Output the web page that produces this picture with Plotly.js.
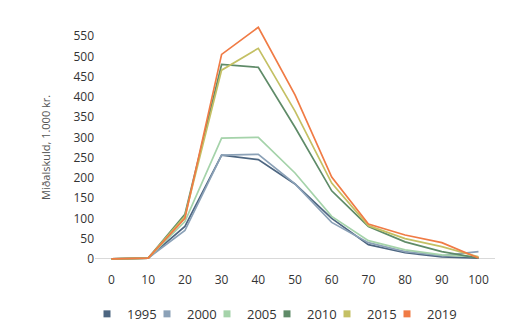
<!DOCTYPE html>
<html><head><meta charset="utf-8">
<script src="https://cdn.plot.ly/plotly-3.0.1.min.js"></script>
<style>body{margin:0;background:#fff}#c{width:514px;height:328px}</style>
</head><body><div id="c"></div>
<script>
const ages = [0, 10, 20, 30, 40, 50, 60, 70, 80, 90, 100];
const years = ['1995', '2000', '2005', '2010', '2015', '2019'];
const v1995 = [0, 2, 80, 256, 245, 185, 100, 35, 15, 5, 2];
const v2000 = [0, 2, 70, 256, 258, 185, 90, 40, 18, 8, 18];
const v2005 = [0, 2, 92, 298, 300, 212, 105, 45, 22, 10, 5];
const v2010 = [0, 2, 110, 480, 473, 325, 168, 80, 42, 18, 2];
const v2015 = [0, 2, 105, 466, 520, 365, 187, 82, 50, 30, 5];
const v2019 = [0, 2, 100, 505, 572, 405, 202, 86, 59, 40, 2];
const colors = ['#4d6681', '#8ba1b7', '#a5d3aa', '#5f8b68', '#c4c064', '#f07b45'];
const series = [v1995, v2000, v2005, v2010, v2015, v2019];
const yTitle = 'Miðalskuld, 1.000 kr.';

const traces = [];
series.forEach((s, i) => {
  traces.push({x: ages, y: s, type: 'scatter', mode: 'lines', name: years[i],
    line: {color: colors[i], width: 1.7}, showlegend: false, hoverinfo: 'skip'});
});
const legendKey = i => (i === 0 ? 'legend' : 'legend' + (i + 1));
series.forEach((s, i) => {
  traces.push({x: [null], y: [null], type: 'scatter', mode: 'markers', name: years[i],
    legend: legendKey(i),
    marker: {color: colors[i], symbol: 'square', size: 7}, showlegend: true});
});

const layout = {
  width: 514, height: 328,
  margin: {l: 95, r: 19, t: 24, b: 57},
  paper_bgcolor: '#fff', plot_bgcolor: '#fff',
  font: {family: 'Open Sans, sans-serif', size: 12, color: '#333'},
  showlegend: true,
  xaxis: {range: [-4.5, 104.5], tickvals: ages, showgrid: false, zeroline: false,
    showline: false, ticks: '', tickfont: {size: 12, color: '#333'}, fixedrange: true},
  yaxis: {range: [-30, 580], tickvals: [0,50,100,150,200,250,300,350,400,450,500,550],
    showgrid: false, zeroline: true, zerolinecolor: '#d9d9d9', zerolinewidth: 1,
    showline: false, ticks: '', tickfont: {size: 12, color: '#333'}, fixedrange: true},
  annotations: [{text: yTitle, xref: 'paper', yref: 'paper', x: -0.1475, y: 0.5,
    textangle: -90, showarrow: false, font: {size: 11, color: '#555'}}]
};
series.forEach((s, i) => {
  layout[legendKey(i)] = {orientation: 'h', xref: 'container', yref: 'container', xanchor: 'left',
    x: (87 + 60 * i) / 514, y: 0.043, yanchor: 'middle', font: {size: 13, color: '#333'},
    itemwidth: 30, bgcolor: 'rgba(0,0,0,0)'};
});
Plotly.newPlot('c', traces, layout, {displayModeBar: false, staticPlot: true});
</script></body></html>
